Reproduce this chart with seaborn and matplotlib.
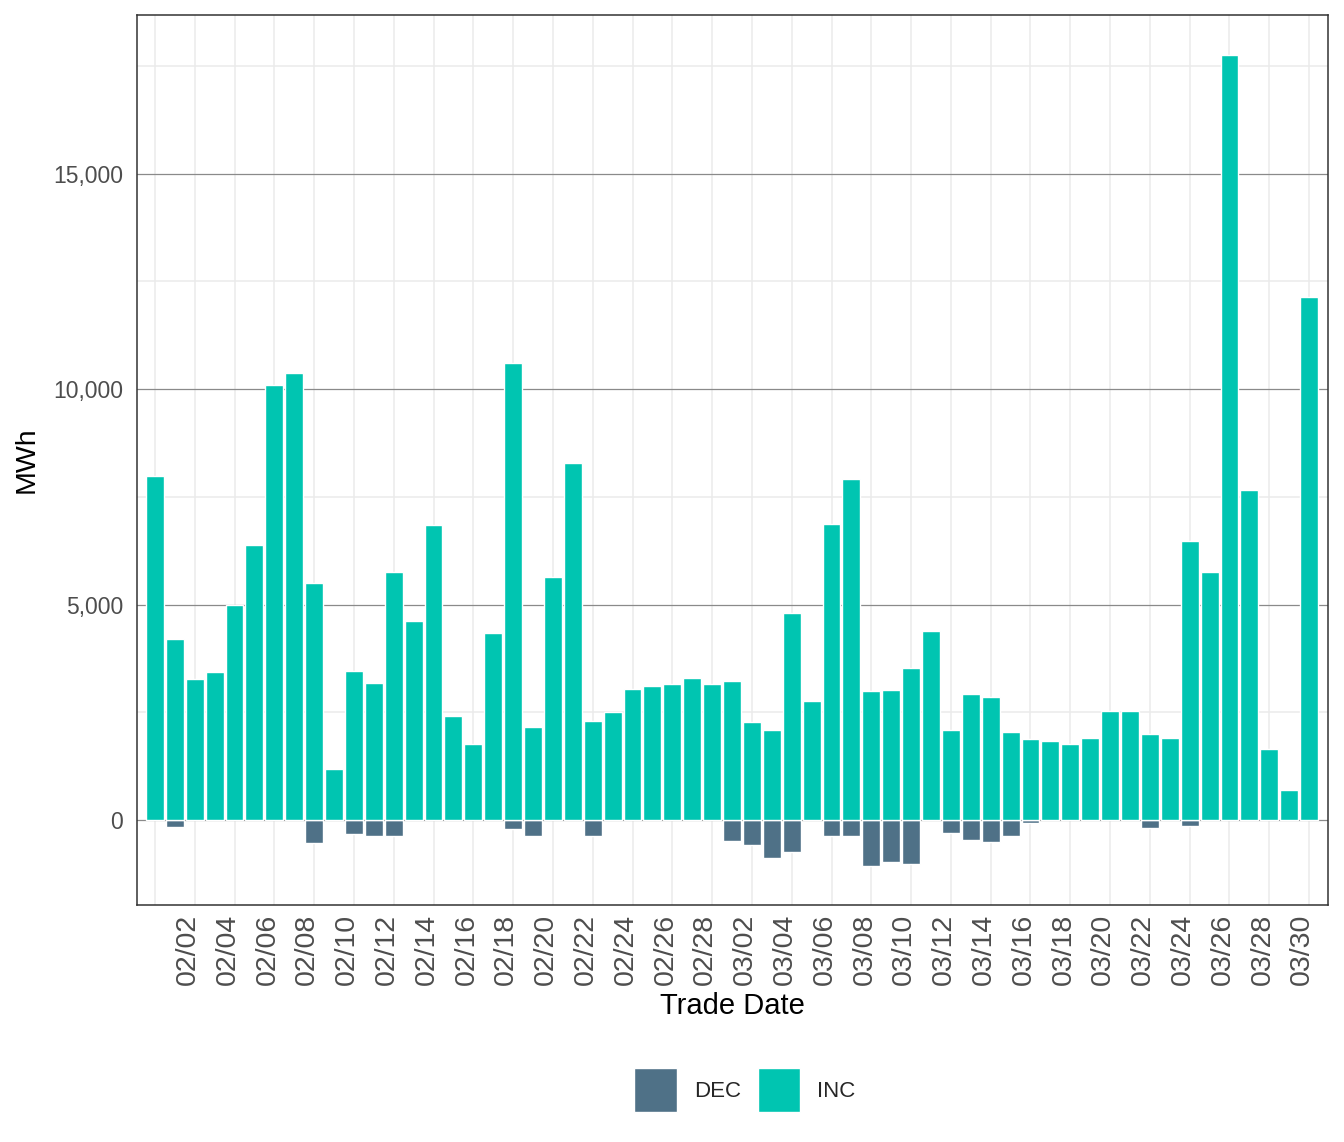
import matplotlib
matplotlib.use("Agg")
import matplotlib.pyplot as plt
from matplotlib.ticker import FuncFormatter, FixedLocator
import seaborn as sns
import pandas as pd

# trade dates 02/01 .. 03/31
trade_dates = pd.date_range("2023-02-01", "2023-03-31", freq="D")
day_labels = [d.strftime("%m/%d") for d in trade_dates]

# INC volumes (MWh), one per day
inc_mwh = [7990, 4210, 3280, 3440, 4980, 6390, 10100, 10380, 5510, 1190,
           3460, 3190, 5760, 4620, 6850, 2420, 1760, 4340, 10610, 2150,
           5640, 8290, 2300, 2500, 3040, 3100, 3150, 3300,
           3150, 3220, 2270, 2090, 4810, 2760, 6870, 7920, 3000, 3020,
           3530, 4390, 2090, 2930, 2860, 2040, 1880, 1830, 1770, 1910,
           2540, 2520, 2000, 1910, 6470, 5760, 17760, 7660, 1660, 700,
           12140]

# DEC volumes (MWh, negative), 0 = none
dec_mwh = [0, -170, 0, 0, 0, 0, 0, 0, -540, 0,
           -330, -360, -380, 0, 0, 0, 0, 0, -210, -380,
           0, 0, -380, 0, 0, 0, 0, 0,
           0, -490, -580, -870, -740, 0, -370, -370, -1060, -970,
           -1020, 0, -300, -460, -510, -370, -70, 0, 0, 0,
           0, 0, -180, 0, -130, 0, 0, 0, 0, 0,
           0]

df = pd.concat([
    pd.DataFrame({"date": day_labels, "MWh": dec_mwh, "type": "DEC"}),
    pd.DataFrame({"date": day_labels, "MWh": inc_mwh, "type": "INC"}),
])
df = df[df["MWh"] != 0]

sns.set_style("white")
plt.rcParams["font.family"] = ["Liberation Sans", "DejaVu Sans"]

fig = plt.figure(figsize=(13.44, 11.42), dpi=100)
ax = fig.add_axes([137 / 1344, 1 - 905 / 1142, (1328 - 137) / 1344, (905 - 15) / 1142])

sns.barplot(data=df, x="date", y="MWh", hue="type", order=day_labels,
            hue_order=["DEC", "INC"],
            palette={"DEC": "#4f7187", "INC": "#00c5b1"},
            dodge=False, width=0.9, errorbar=None, saturation=1, ax=ax)

ax.set_xlim(-0.9, len(day_labels) - 0.05)
ax.set_ylim(-1970, 18680)

# x ticks every other day, starting 02/02; light vertical lines on the other days
ax.xaxis.set_major_locator(FixedLocator(list(range(1, len(day_labels), 2))))
ax.set_xticklabels(day_labels[1::2], rotation=90, ha="left", va="top")
ax.xaxis.set_minor_locator(FixedLocator(list(range(0, len(day_labels), 2))))

ax.yaxis.set_major_locator(FixedLocator([0, 5000, 10000, 15000]))
ax.yaxis.set_minor_locator(FixedLocator([2500, 7500, 12500, 17500]))
ax.yaxis.set_major_formatter(FuncFormatter(lambda v, p: f"{v:,.0f}"))

ax.set_axisbelow(True)
ax.grid(False)
ax.grid(which="minor", axis="both", color="#ebebeb", linewidth=1.1)
ax.grid(which="major", axis="y", color="#8a8a8a", linewidth=0.9)

ax.tick_params(which="minor", length=0)
ax.tick_params(axis="both", which="major", direction="out", length=4, width=1.1,
               color="#333333", labelcolor="#4d4d4d", labelsize=16.5)
ax.tick_params(axis="y", pad=6)
ax.tick_params(axis="x", pad=2.5, labelsize=20.5)

for s in ax.spines.values():
    s.set_visible(True)
    s.set_color("#333333")
    s.set_linewidth(1.1)

ax.set_xlabel("Trade Date", fontsize=21, color="black", labelpad=5)
ax.set_ylabel("MWh", fontsize=20.5, color="black", labelpad=10)

handles, labels = ax.get_legend_handles_labels()
ax.get_legend().remove()
fig.legend(handles, labels, loc="center", bbox_to_anchor=(745 / 1344, 1 - 1090 / 1142),
           ncol=2, frameon=False, fontsize=16, handlelength=1.9, handleheight=2.7,
           handletextpad=0.77, columnspacing=0.77)

fig.savefig("out.png", dpi=100)
